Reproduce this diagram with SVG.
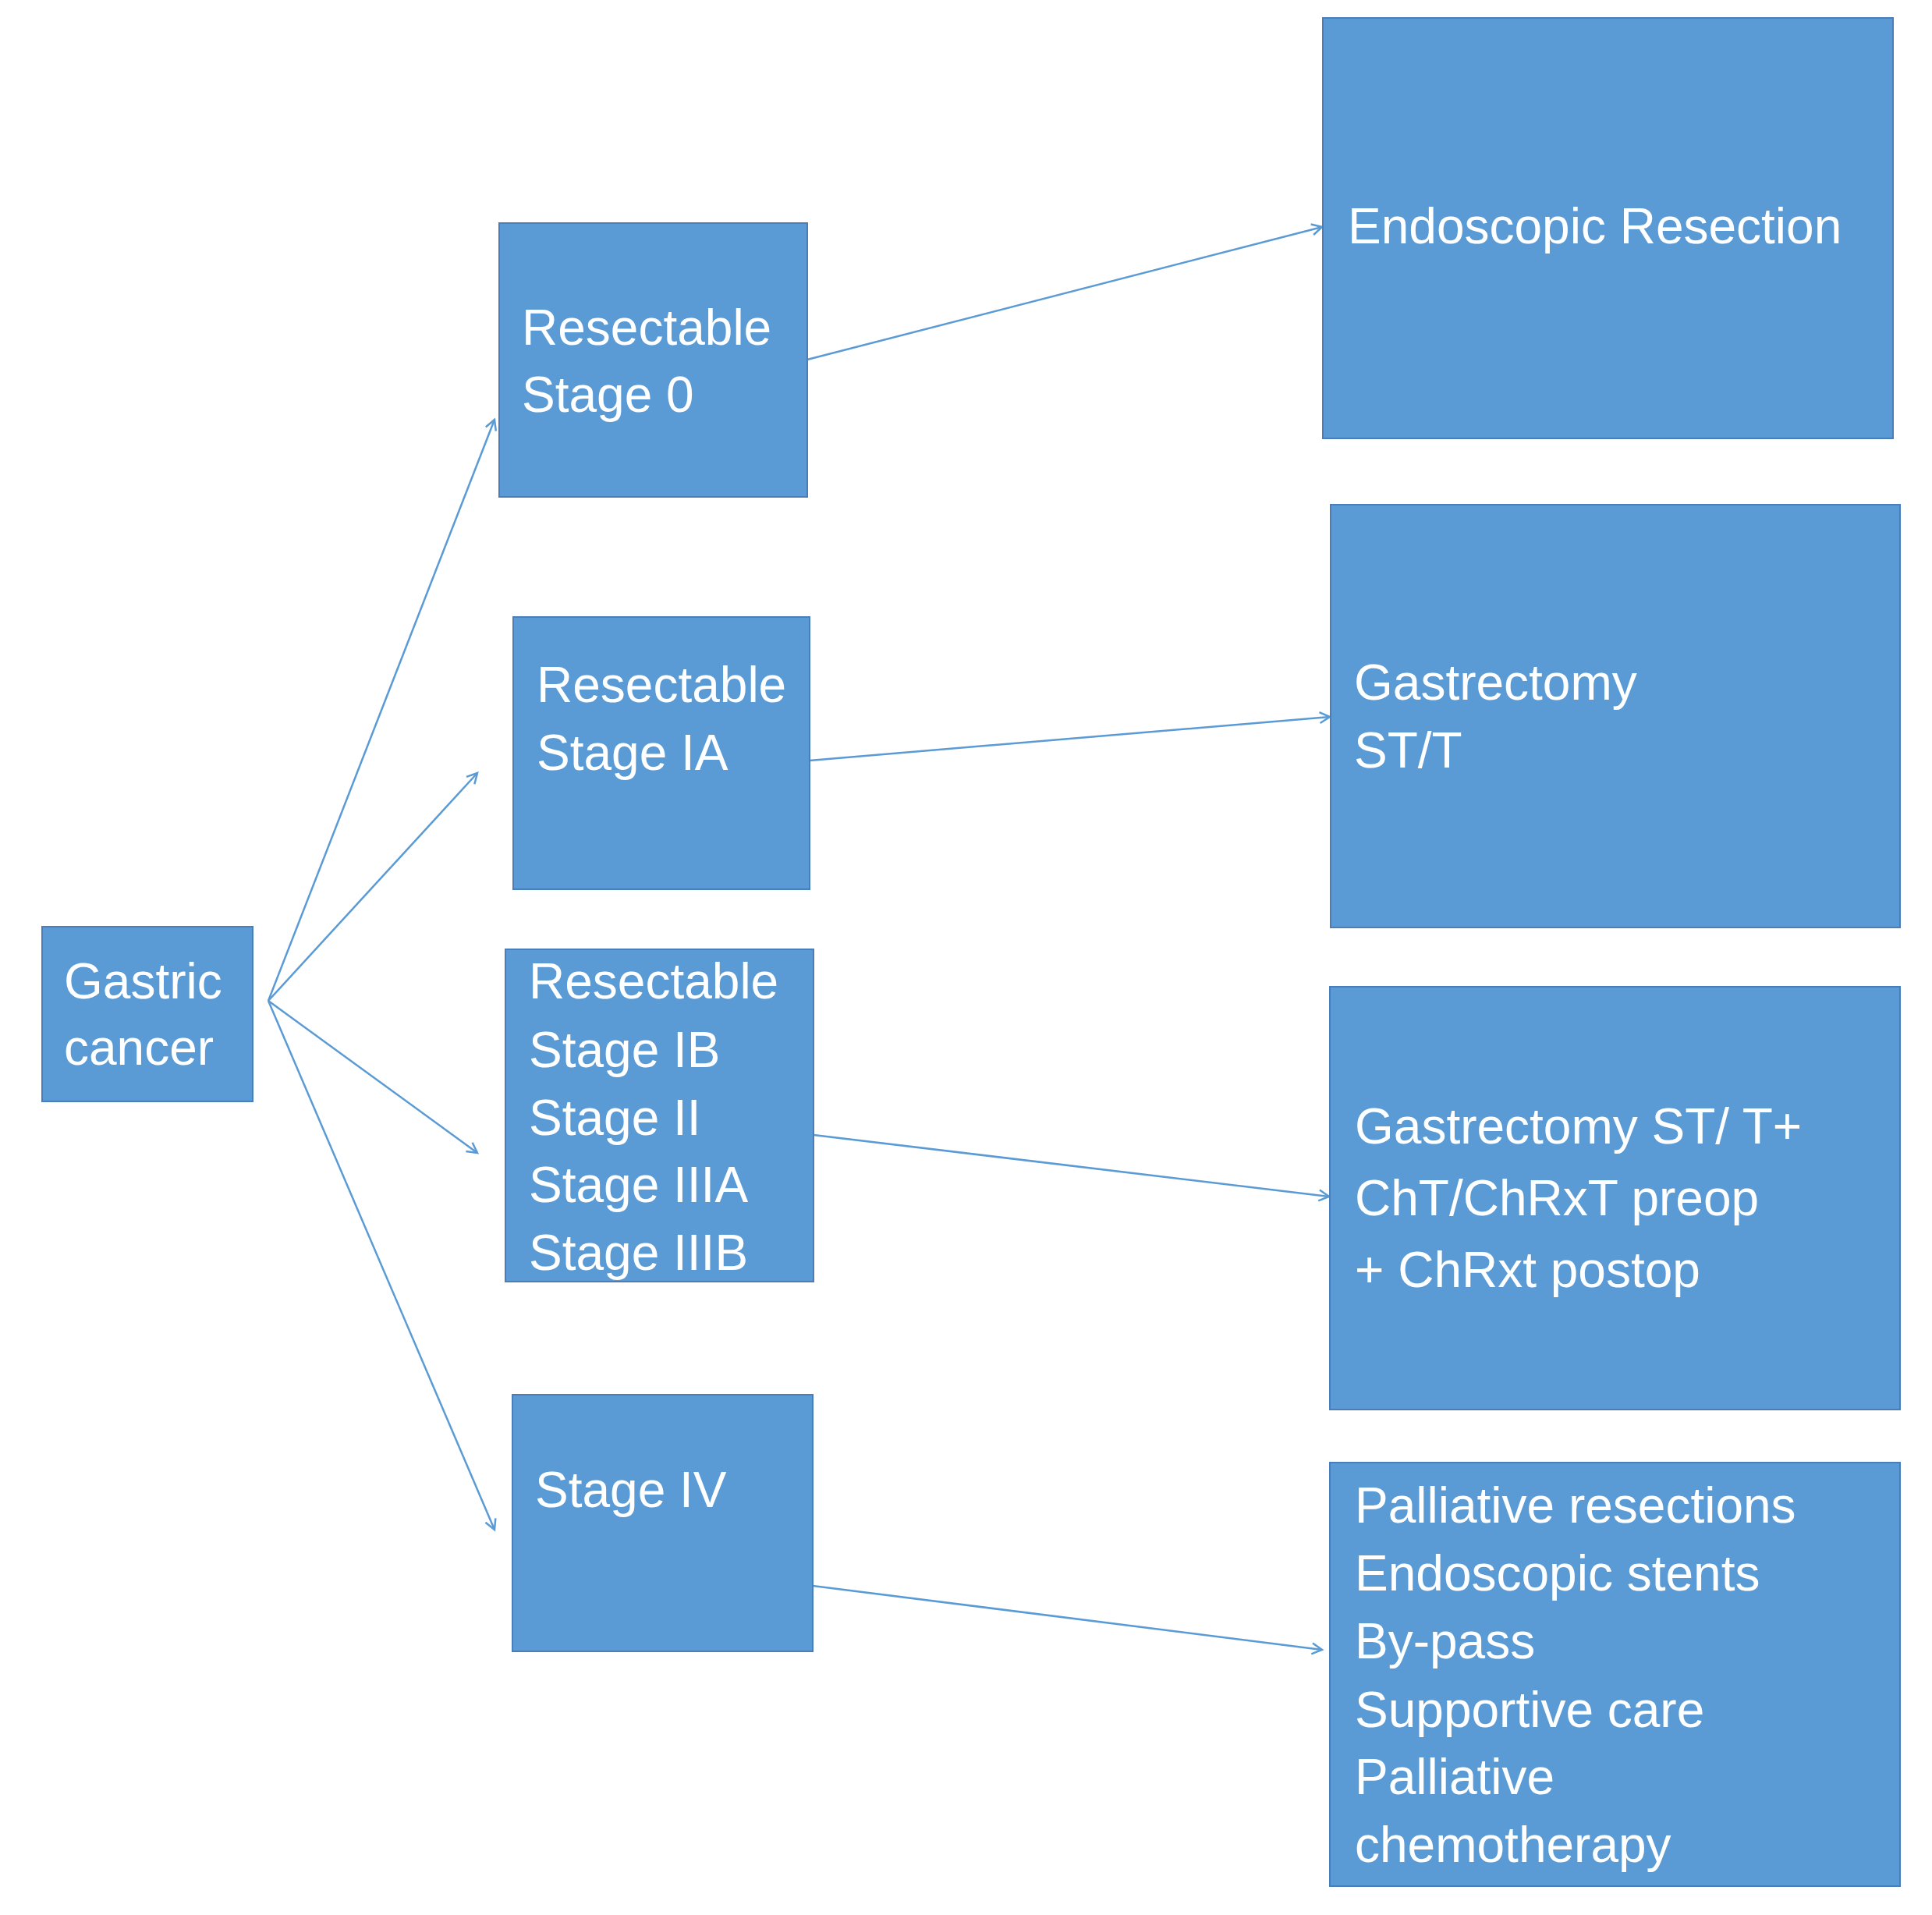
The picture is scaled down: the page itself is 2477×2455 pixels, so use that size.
<svg xmlns="http://www.w3.org/2000/svg" width="2477" height="2455" viewBox="0 0 2477 2455">
<style>
.box{fill:#5B9BD5;stroke:#4A7EBB;stroke-width:2}
.t{font-family:"Liberation Sans",Arial,sans-serif;font-size:64px;fill:#FFFFFF}
.c{stroke:#5B9BD5;stroke-width:2.5;fill:none;marker-end:url(#ah)}
</style>
<defs>
<marker id="ah" markerUnits="userSpaceOnUse" markerWidth="18" markerHeight="18" refX="15" refY="9" orient="auto" viewBox="0 0 18 18">
<path d="M2,2 L15,9 L2,16" fill="none" stroke="#5B9BD5" stroke-width="2.5"/>
</marker>
</defs>
<rect width="2477" height="2455" fill="#FFFFFF"/>
<g id="connectors">
<line class="c" x1="344" y1="1283" x2="634" y2="538"/>
<line class="c" x1="344" y1="1283" x2="612" y2="991"/>
<line class="c" x1="344" y1="1283" x2="612" y2="1478"/>
<line class="c" x1="344" y1="1283" x2="634" y2="1961"/>
<line class="c" x1="1035" y1="461" x2="1695" y2="291"/>
<line class="c" x1="1038" y1="975" x2="1705" y2="919"/>
<line class="c" x1="1043" y1="1455" x2="1704" y2="1534"/>
<line class="c" x1="1042" y1="2033" x2="1695" y2="2115"/>
</g>
<g id="gastric-cancer">
<rect class="box" x="54" y="1188" width="270" height="224"/>
<text class="t" x="82" y="1280">Gastric</text>
<text class="t" x="82" y="1365">cancer</text>
</g>
<g id="stage-0">
<rect class="box" x="640" y="286" width="395" height="351"/>
<text class="t" x="669" y="442">Resectable</text>
<text class="t" x="669" y="528">Stage 0</text>
</g>
<g id="stage-ia">
<rect class="box" x="658" y="791" width="380" height="349"/>
<text class="t" x="688" y="900">Resectable</text>
<text class="t" x="688" y="987">Stage IA</text>
</g>
<g id="stage-ib-iiib">
<rect class="box" x="648" y="1217" width="395" height="426"/>
<text class="t" x="678" y="1280">Resectable</text>
<text class="t" x="678" y="1368">Stage IB</text>
<text class="t" x="678" y="1455">Stage II</text>
<text class="t" x="678" y="1541">Stage IIIA</text>
<text class="t" x="678" y="1628">Stage IIIB</text>
</g>
<g id="stage-iv">
<rect class="box" x="657" y="1788" width="385" height="329"/>
<text class="t" x="686" y="1932">Stage IV</text>
</g>
<g id="endoscopic-resection">
<rect class="box" x="1696" y="23" width="731" height="539"/>
<text class="t" x="1728" y="312">Endoscopic Resection</text>
</g>
<g id="gastrectomy">
<rect class="box" x="1706" y="647" width="730" height="542"/>
<text class="t" x="1736" y="897">Gastrectomy</text>
<text class="t" x="1736" y="984">ST/T</text>
</g>
<g id="gastrectomy-cht">
<rect class="box" x="1705" y="1265" width="731" height="542"/>
<text class="t" x="1737" y="1466">Gastrectomy ST/ T+</text>
<text class="t" x="1737" y="1558">ChT/ChRxT preop</text>
<text class="t" x="1737" y="1650">+ ChRxt postop</text>
</g>
<g id="palliative">
<rect class="box" x="1705" y="1875" width="731" height="543"/>
<text class="t" x="1737" y="1952">Palliative resections</text>
<text class="t" x="1737" y="2039">Endoscopic stents</text>
<text class="t" x="1737" y="2126">By-pass</text>
<text class="t" x="1737" y="2214">Supportive care</text>
<text class="t" x="1737" y="2300">Palliative</text>
<text class="t" x="1737" y="2387">chemotherapy</text>
</g>
</svg>
